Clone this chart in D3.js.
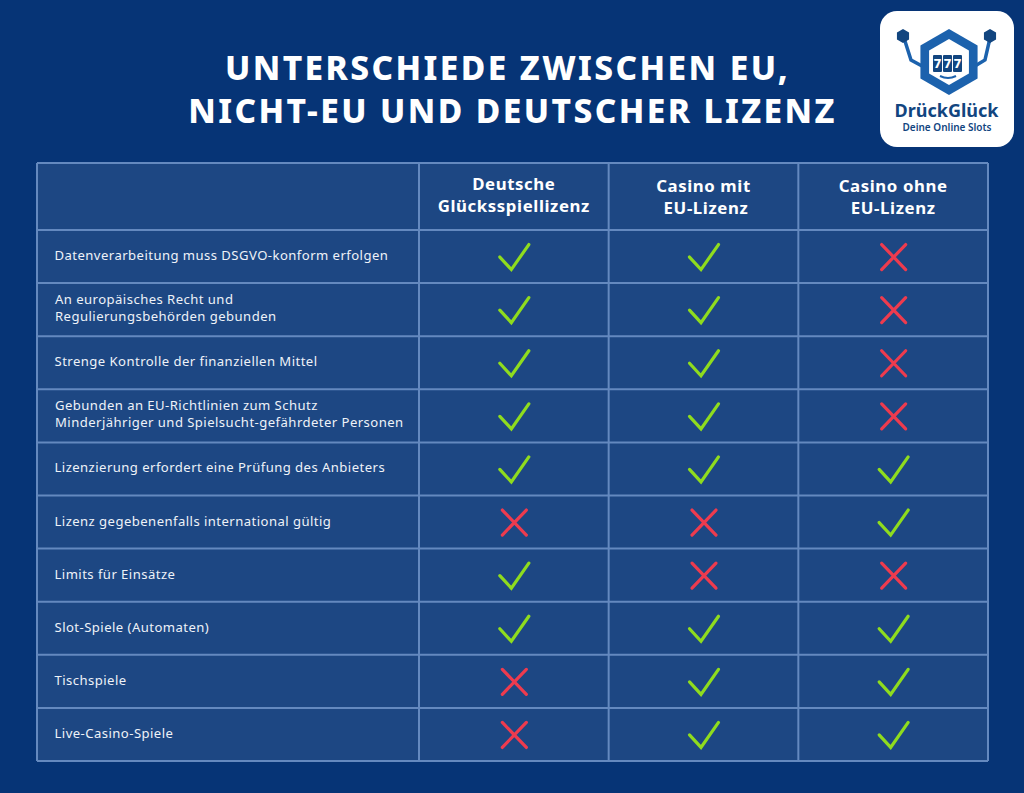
<!DOCTYPE html>
<html><head><meta charset="utf-8">
<script src="https://cdn.jsdelivr.net/npm/d3@7"></script>
<style>html,body{margin:0;padding:0;background:#063476;overflow:hidden}svg{display:block}text{font-family:"Noto Sans",sans-serif}</style>
</head><body><svg id="c" width="1024" height="793"></svg>
<script>
const titleLines = [["UNTERSCHIEDE ZWISCHEN EU,",507.5,80],["NICHT-EU UND DEUTSCHER LIZENZ",512.5,123]];
const columns = [["Deutsche","Glücksspiellizenz"],["Casino mit"," EU-Lizenz"],["Casino ohne","EU-Lizenz"]];
const rowLabels = [
 ["Datenverarbeitung muss DSGVO-konform erfolgen"],
 ["An europäisches Recht und","Regulierungsbehörden gebunden"],
 ["Strenge Kontrolle der finanziellen Mittel"],
 ["Gebunden an EU-Richtlinien zum Schutz","Minderjähriger und Spielsucht-gefährdeter Personen"],
 ["Lizenzierung erfordert eine Prüfung des Anbieters"],
 ["Lizenz gegebenenfalls international gültig"],
 ["Limits für Einsätze"],
 ["Slot-Spiele (Automaten)"],
 ["Tischspiele"],
 ["Live-Casino-Spiele"]];
const germanLicence = [1,1,1,1,1,0,1,1,0,0];
const euLicence     = [1,1,1,1,1,0,0,1,1,1];
const nonEuLicence  = [0,0,0,0,1,1,0,1,1,1];
const series = [germanLicence,euLicence,nonEuLicence];

const svg = d3.select("#c");
const W = "#ffffff", GRID="#6489bf", CELL="#1d4783", GREEN="#8fdc1e", RED="#ee3b4e";
const x = d3.scaleBand().domain(d3.range(3)).range([419,988]);
const y = d3.scaleBand().domain(d3.range(rowLabels.length)).range([230,761]);
const L=37, T=163;

svg.append("g").selectAll("text").data(titleLines).join("text")
  .attr("x",d=>d[1]).attr("y",d=>d[2]).attr("text-anchor","middle")
  .attr("fill",W).attr("font-size",33.5).attr("font-weight",800).attr("letter-spacing",2.4).text(d=>d[0]);

svg.append("rect").attr("x",L).attr("y",T).attr("width",988-L).attr("height",761-T).attr("fill",CELL);
const grid = svg.append("g").attr("stroke",GRID).attr("stroke-width",2);
[L,...x.domain().map(x),988].forEach(v=>grid.append("line").attr("x1",v).attr("x2",v).attr("y1",T).attr("y2",761));
[T,...y.domain().map(y),761].forEach(v=>grid.append("line").attr("y1",v).attr("y2",v).attr("x1",L).attr("x2",988));

// header
const hdr = svg.append("g").selectAll("text").data(columns).join("text")
  .attr("text-anchor","middle").attr("fill",W).attr("font-size",16.8).attr("font-weight",700).attr("letter-spacing",.6);
hdr.each(function(d,i){
  const cx=x(i)+x.bandwidth()/2;
  d.forEach((s,j)=>d3.select(this).append("tspan").attr("x",cx).attr("y",(i==0?190:192)+j*22).attr("xml:space","preserve").text(s));
});

// row labels
const rl = svg.append("g").selectAll("text").data(rowLabels).join("text")
  .attr("fill","#eef2f8").attr("font-size",13.1).attr("letter-spacing",.45);
rl.each(function(d,i){
  const cy=y(i)+y.bandwidth()/2;
  const y0=d.length==1?cy+3.5:cy-5.5;
  d.forEach((s,j)=>d3.select(this).append("tspan").attr("x",d.length==1?54.5:55).attr("y",y0+j*17).text(s));
});

// marks
const line=d3.line();
const checkShape=[[-14.5,0],[-3,12.5],[14.5,-12.5]];
const crossA=[[-12,-12.5],[12,12.5]], crossB=[[12,-12.5],[-12,12.5]];
const cols=svg.append("g").selectAll("g").data(series).join("g");
cols.each(function(vals,c){
  d3.select(this).selectAll("path").data(vals).join("path")
   .attr("transform",(v,r)=>`translate(${x(c)+x.bandwidth()/2+0.5},${y(r)+y.bandwidth()/2+0.5})`)
   .attr("fill","none").attr("stroke-width",3.2).attr("stroke-linecap","round").attr("stroke-linejoin","miter")
   .attr("stroke",v=>v?GREEN:RED)
   .attr("d",v=>v?line(checkShape):line(crossA)+line(crossB));
});

// logo
const g=svg.append("g");
g.append("rect").attr("x",880).attr("y",11).attr("width",134).attr("height",136).attr("rx",17).attr("fill",W);
const B="#1c62ad", D="#12457f";
const hex=(r,cx=949,cy=62)=>d3.range(6).map(i=>{const a=Math.PI/3*i+Math.PI/2;return [cx+r*Math.cos(a),cy+r*Math.sin(a)]});
const closed=d3.line().curve(d3.curveLinearClosed);
g.append("path").attr("d",line([[904,38],[911,60],[922,66]])).attr("fill","none").attr("stroke",B).attr("stroke-width",3.5);
g.append("path").attr("d",line([[990,38],[985,60],[975,66]])).attr("fill","none").attr("stroke",B).attr("stroke-width",3.5);
g.append("path").attr("d",closed(hex(7,903,36))).attr("fill",D);
g.append("path").attr("d",closed(hex(7,990,36))).attr("fill",D);
g.append("path").attr("d",closed(hex(33))).attr("fill",B);
g.append("path").attr("d",closed(hex(23))).attr("fill",W);
["7","7","7"].forEach((s,i)=>{
  g.append("rect").attr("x",933+i*10).attr("y",55).attr("width",9).attr("height",17).attr("rx",1).attr("fill",D);
  g.append("text").attr("x",937.5+i*10).attr("y",68).attr("text-anchor","middle").attr("font-size",13).attr("font-weight",800).attr("fill",W).text(s);
});
g.append("path").attr("d","M940 76 Q948 80 956 76").attr("fill","none").attr("stroke",B).attr("stroke-width",2);
g.append("text").attr("x",946.5).attr("y",117).attr("text-anchor","middle").attr("font-size",18).attr("font-weight",700).attr("fill",D).text("DrückGlück");
g.append("text").attr("x",947).attr("y",131).attr("text-anchor","middle").attr("font-size",10).attr("font-weight",600).attr("fill",D).text("Deine Online Slots");
</script></body></html>
